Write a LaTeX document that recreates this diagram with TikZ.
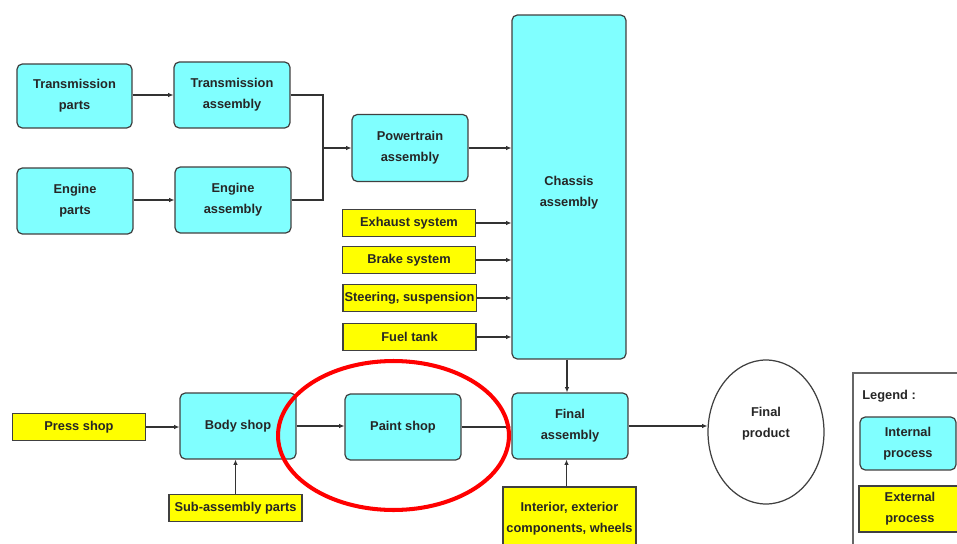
\documentclass[tikz,border=0pt]{standalone}
\usepackage{fontspec}
\setmainfont{Liberation Sans}
\usetikzlibrary{arrows.meta,shapes.geometric}
\definecolor{incyan}{HTML}{80FFFF}
\definecolor{exyellow}{HTML}{FFFF00}
\definecolor{edgegray}{HTML}{404040}
\tikzset{
  boxtext/.style={font=\fontsize{7.3pt}{12pt}\selectfont\bfseries, align=center, text=black!85},
  inproc/.style={boxtext, draw=edgegray, line width=0.7pt, fill=incyan, rounded corners=3pt,
    minimum width=2.32cm, minimum height=1.32cm, inner sep=1pt},
  exproc/.style={boxtext, draw=edgegray, line width=0.7pt, fill=exyellow,
    minimum width=2.66cm, minimum height=0.55cm, inner sep=1pt},
  arr/.style={draw=black!80, line width=0.6pt, -{Latex[length=3pt,width=2.6pt]}},
  link/.style={draw=black!80, line width=0.6pt}
}
\begin{document}
\begin{tikzpicture}[x=0.02cm, y=-0.02cm]
			%%%%% FRAME %%%%%
			\clip (0, 0) rectangle (957, 544);
			\fill[white] (0, 0) rectangle (957, 544);
			
			%%%%% POWERTRAIN %%%%%
			\node[inproc, minimum width=2.30cm, minimum height=1.28cm] (tparts) at (74.5, 96) {Transmission\\parts};
			\node[inproc] (tasm) at (232, 95) {Transmission\\assembly};
			\node[inproc] (eparts) at (75, 201) {Engine\\parts};
			\node[inproc] (easm) at (233, 200) {Engine\\assembly};
			\node[inproc, minimum height=1.34cm] (ptasm) at (410, 148) {Powertrain\\assembly};
			\coordinate (jn) at (323, 148);
			
			\draw[arr] (tparts.east |- tasm) -- (tasm.west);
			\draw[arr] (eparts.east |- easm) -- (easm.west);
			\draw[link] (tasm.east) -| (jn);
			\draw[link] (easm.east) -| (jn);
			\draw[arr] (jn) -- (ptasm.west);
			
			%%%%% CHASSIS %%%%%
			\node[inproc, minimum width=2.28cm, minimum height=6.88cm] (chassis) at (569, 187) {};
			\node[boxtext] (chassislbl) at (569, 193) {Chassis\\assembly};
			\node[exproc] (exhaust) at (409, 223) {Exhaust system};
			\node[exproc] (brake) at (409, 260) {Brake system};
			\node[exproc] (steer) at (409.5, 298) {Steering, suspension};
			\node[exproc] (fuel) at (409.5, 337) {Fuel tank};
			
			\draw[arr] (ptasm.east) -- (ptasm.east -| chassis.west);
			\foreach \part in {exhaust, brake, steer, fuel}
			  \draw[arr] (\part.east) -- (\part.east -| chassis.west);
			
			%%%%% BODY LINE %%%%%
			\node[exproc] (press) at (79, 427) {Press shop};
			\node[inproc] (body) at (238, 426) {Body shop};
			\node[exproc] (subasm) at (235.5, 508) {Sub-assembly parts};
			\node[inproc] (paint) at (403, 427) {Paint shop};
			\node[inproc] (fasm) at (570, 426) {Final\\assembly};
			\node[exproc, minimum height=1.28cm] (intr) at (569.5, 519) {Interior, exterior\\components, wheels};
			\node[ellipse, draw=edgegray, line width=0.7pt, fill=white,
			  minimum width=2.32cm, minimum height=2.88cm, inner sep=0pt] (prod) at (766, 432) {};
			\node[boxtext] (prodlbl) at (766, 424) {Final\\product};
			
			\draw[arr] (press) -- (press -| body.west);
			\draw[arr] (subasm) -- (subasm |- body.south);
			\draw[arr] (body.east) -- (body.east -| paint.west);
			\draw[arr] (paint.east) -- (paint.east -| fasm.west);
			\draw[arr] (chassis.south -| fasm.north) ++(-3, 0) coordinate (cdrop) -- (cdrop |- fasm.north);
			\draw[arr] (intr.north) ++(-3, 0) coordinate (iup) -- (iup |- fasm.south);
			\draw[arr] (fasm.east) -- (fasm.east -| prod.west);
			
			%%%%% LEGEND %%%%%
			\draw[black!60, line width=0.6pt] (853, 560) -- (853, 373) -- (980, 373);
			\node[boxtext, anchor=west, inner sep=0pt] (legtitle) at (862, 396) {Legend :};
			\node[inproc, minimum width=1.92cm, minimum height=1.06cm] (legin) at (908, 443.5) {Internal\\process};
			\node[exproc, minimum width=2.04cm, minimum height=0.92cm] (legex) at (910, 509) {External\\process};
			
			%%%%% HIGHLIGHT %%%%%
			\node[ellipse, draw=red, line width=2.3pt, minimum width=4.62cm, minimum height=2.98cm,
			  inner sep=0pt] (focus) at (393.5, 435.5) {};
			
			%%%%% END %%%%%
\end{tikzpicture}
\end{document}
